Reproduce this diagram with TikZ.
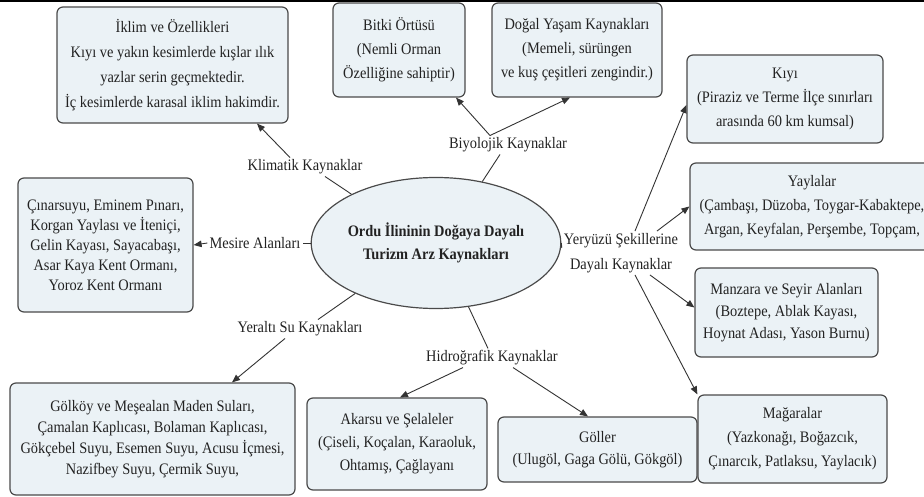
\documentclass[tikz,border=0pt]{standalone}
\usepackage{fontspec}
\setmainfont{Liberation Serif}[FakeStretch=0.9]
\usetikzlibrary{arrows.meta,shapes.geometric}
\definecolor{boxfill}{HTML}{EBF2F6}
\definecolor{boxline}{HTML}{4A4A4A}
\definecolor{txt}{HTML}{222222}
\definecolor{conn}{HTML}{333333}
\begin{document}
\begin{tikzpicture}[x=1pt,y=-1pt,
  box/.style={draw=boxline,line width=1.2pt,fill=boxfill,rounded corners=6pt,
    align=center,inner sep=0pt,text=txt},
  fs/.style={font=\fontsize{16}{#1}\selectfont},
  lbl/.style={inner sep=2pt,text=txt,align=center,font=\fontsize{16}{25}\selectfont},
  ln/.style={draw=conn,line width=0.9pt},
  arr/.style={ln,-{Triangle[length=8pt,width=6.5pt]}}]
\useasboundingbox (0,0) rectangle (924,497);
\fill[white] (0,0) rectangle (924,497);
\clip (0,0) rectangle (924,497);
\coordinate (tl) at (0,1);
\coordinate (tr) at (924,1);
\draw[line width=2pt,black] (tl) -- (tr);

% boxes
\node[box,fs=25,minimum width=231pt,minimum height=116pt] (iklim) at (172.5,65)
  {İklim ve Özellikleri\\Kıyı ve yakın kesimlerde kışlar ılık\\yazlar serin geçmektedir.\\İç kesimlerde karasal iklim hakimdir.};
\node[box,fs=24,minimum width=132pt,minimum height=94pt] (bitki) at (399,50)
  {Bitki Örtüsü\\(Nemli Orman\\Özelliğine sahiptir)};
\node[box,fs=24,minimum width=170pt,minimum height=94pt] (dogal) at (577,50)
  {Doğal Yaşam Kaynakları\\(Memeli, sürüngen\\ve kuş çeşitleri zengindir.)};
\node[box,fs=24,minimum width=196pt,minimum height=88pt] (kiyi) at (785,99)
  {Kıyı\\(Piraziz ve Terme İlçe sınırları\\arasında 60 km kumsal)};
\node[box,fs=24,minimum width=244pt,minimum height=87pt] (yayla) at (812,206.5)
  {Yaylalar\\(Çambaşı, Düzoba, Toygar-Kabaktepe,\\Argan, Keyfalan, Perşembe, Topçam,};
\node[box,fs=22,minimum width=183pt,minimum height=89pt] (manzara) at (786.5,312.5)
  {Manzara ve Seyir Alanları\\(Boztepe, Ablak Kayası,\\Hoynat Adası, Yason Burnu)};
\node[box,fs=24,minimum width=189pt,minimum height=88pt] (magara) at (792.5,439)
  {Mağaralar\\(Yazkonağı, Boğazcık,\\Çınarcık, Patlaksu, Yaylacık)};
\node[box,fs=22,minimum width=199pt,minimum height=65pt] (goller) at (597.5,449.5)
  {Göller\\(Ulugöl, Gaga Gölü, Gökgöl)};
\node[box,fs=23,minimum width=180pt,minimum height=92pt] (akarsu) at (397,444)
  {Akarsu ve Şelaleler\\(Çiseli, Koçalan, Karaoluk,\\Ohtamış, Çağlayanı};
\node[box,fs=21,minimum width=285pt,minimum height=112pt] (golkoy) at (152.5,439)
  {Gölköy ve Meşealan Maden Suları,\\Çamalan Kaplıcası, Bolaman Kaplıcası,\\Gökçebel Suyu, Esemen Suyu, Acusu İçmesi,\\Nazifbey Suyu, Çermik Suyu,};
\node[box,fs=20,minimum width=175pt,minimum height=134pt] (cinar) at (105.5,245)
  {Çınarsuyu, Eminem Pınarı,\\Korgan Yaylası ve İteniçi,\\Gelin Kayası, Sayacabaşı,\\Asar Kaya Kent Ormanı,\\Yoroz Kent Ormanı};

% centre
\node[ellipse,draw=boxline,line width=1.2pt,fill=boxfill,minimum width=207pt,minimum height=131pt,
  inner sep=0pt,align=center,text=txt,font=\bfseries\fontsize{16}{23}\selectfont] (ell) at (436,243)
  {Ordu İlininin Doğaya Dayalı\\Turizm Arz Kaynakları};

% labels
\node[lbl] (klim) at (305,167) {Klimatik Kaynaklar};
\node[lbl] (biyo) at (508,145) {Biyolojik Kaynaklar};
\node[lbl] (mesire) at (255,243) {Mesire Alanları};
\node[lbl] (yer) at (621,253) {Yeryüzü Şekillerine\\Dayalı Kaynaklar};
\node[lbl] (yeralti) at (300,329) {Yeraltı Su Kaynakları};
\node[lbl] (hidro) at (492,358) {Hidroğrafik Kaynaklar};

% connectors
\draw[ln] (ell.150) -- ([xshift=20pt]klim.south);
\draw[arr] ([xshift=-15pt]klim.north) -- ([xshift=84.5pt]iklim.south);

\draw[ln] (ell.53) -- ([xshift=-8pt]biyo.south);
\draw[arr] ([xshift=-18pt]biyo.north) -- ([xshift=57pt]bitki.south);
\draw[arr] ([xshift=-18pt]biyo.north) -- ([xshift=-7pt]dogal.south);

\draw[ln] (ell.west) -- (mesire.east);
\draw[arr] (mesire.west) -- (cinar.east);

\draw[ln] (ell.east) -- ([yshift=5pt]yer.west);
\draw[arr] ([xshift=14pt]yer.north) -- ([yshift=-6pt]kiyi.west);
\draw[arr] ([xshift=36pt]yer.north) -- (yayla.west);
\draw[arr] ([xshift=29pt]yer.south) -- ([yshift=5pt]manzara.west);
\draw[arr] ([xshift=14pt]yer.south) -- (magara.north west);

\draw[ln] (ell.212) -- ([xshift=18pt]yeralti.north);
\draw[arr] ([xshift=-15pt]yeralti.south) -- ([xshift=79.5pt]golkoy.north);

\draw[ln] (ell.-63) -- ([xshift=-4pt]hidro.north);
\draw[arr] ([xshift=-29pt]hidro.south) -- ([xshift=3pt]akarsu.north);
\draw[arr] ([xshift=21pt]hidro.south) -- ([xshift=-9.5pt]goller.north);
\end{tikzpicture}
\end{document}
